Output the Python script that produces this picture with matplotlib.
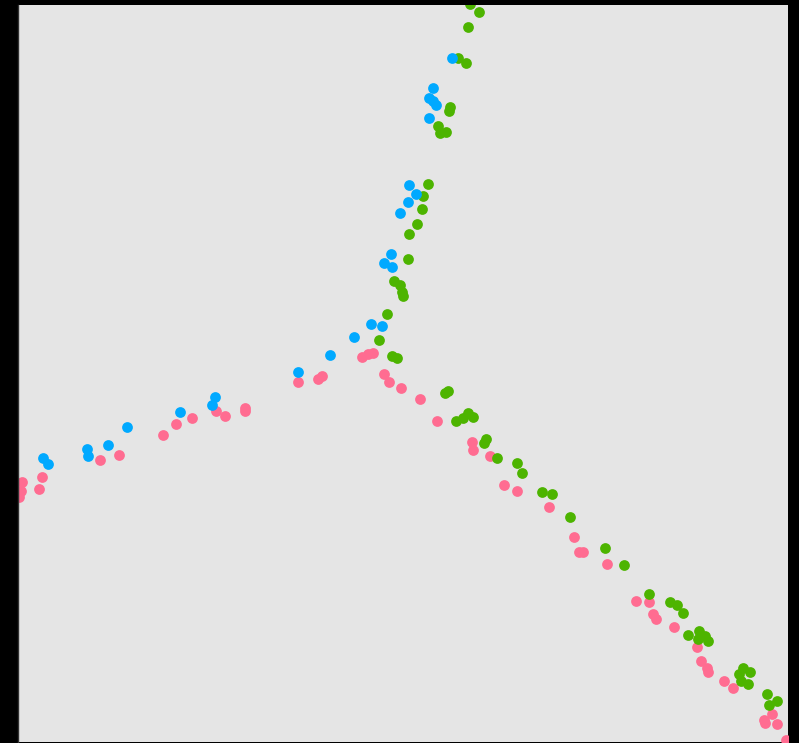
import matplotlib
matplotlib.use("Agg")
import matplotlib.pyplot as plt
import numpy as np

# Three arms of a branching trajectory (x, y in panel units)
pink_x = [1, 3, 4, 21, 24, 82, 101, 145, 158, 174, 198, 207, 227, 227, 280, 300, 304,
          344, 350, 355, 366, 371, 383, 402, 419, 454, 455, 472, 486, 499, 531, 556,
          561, 565, 589, 618, 631, 635, 638, 656, 679, 683, 689, 690, 706, 715, 746,
          747, 754, 759, 768]
pink_y = [245, 251, 260, 253, 265, 282, 287, 307, 318, 324, 331, 326, 334, 331, 360, 363,
          366, 385, 388, 389, 368, 360, 354, 343, 321, 300, 292, 286, 257, 251, 235, 205,
          190, 190, 178, 141, 140, 128, 123, 115, 95, 81, 74, 70, 61, 54, 22, 19, 28,
          18, 2]
green_x = [452, 461, 450, 440, 448, 432, 431, 420, 422, 428, 410, 405, 404, 399, 391,
           390, 376, 382, 384, 385, 369, 361, 374, 379, 427, 430, 438, 445, 450, 455,
           468, 466, 479, 499, 504, 524, 534, 552, 587, 606, 631, 652, 659, 665, 670,
           681, 680, 687, 690, 725, 732, 721, 723, 730, 749, 759, 751]
green_y = [738, 730, 715, 684, 679, 635, 631, 616, 609, 610, 558, 546, 533, 518, 508,
           483, 461, 457, 450, 446, 428, 402, 386, 384, 349, 351, 321, 324, 329, 325,
           303, 299, 284, 279, 269, 250, 248, 225, 194, 177, 148, 140, 137, 129, 107,
           111, 103, 106, 101, 74, 70, 68, 61, 58, 48, 41, 37]
blue_x = [434, 415, 411, 415, 418, 411, 391, 398, 390, 382, 373, 366, 374, 353, 364,
          336, 312, 280, 197, 194, 162, 109, 90, 69, 70, 25, 30]
blue_y = [684, 654, 644, 641, 637, 624, 557, 548, 540, 529, 488, 479, 475, 418, 416,
          405, 387, 370, 345, 337, 330, 315, 297, 293, 286, 284, 278]

series = [
    (pink_x, pink_y, "#FF6C91"),
    (green_x, green_y, "#4DB400"),
    (blue_x, blue_y, "#00A9FF"),
]

fig = plt.figure(figsize=(7.99, 7.43), dpi=100, facecolor="black")
ax = fig.add_axes([18 / 799, 1 / 743, 770 / 799, 737 / 743])
ax.set_facecolor("#E5E5E5")

for xs, ys, color in series:
    ax.scatter(xs, ys, s=60, c=color, linewidths=0, zorder=2)

ax.set_xlim(0, 770)
ax.set_ylim(0, 737)
ax.set_xticks([])
ax.set_yticks([])
for side, spine in ax.spines.items():
    spine.set_visible(side == "left")
    spine.set_color("#333333")
    spine.set_linewidth(1)

fig.savefig("out.png", dpi=100, facecolor="black")
